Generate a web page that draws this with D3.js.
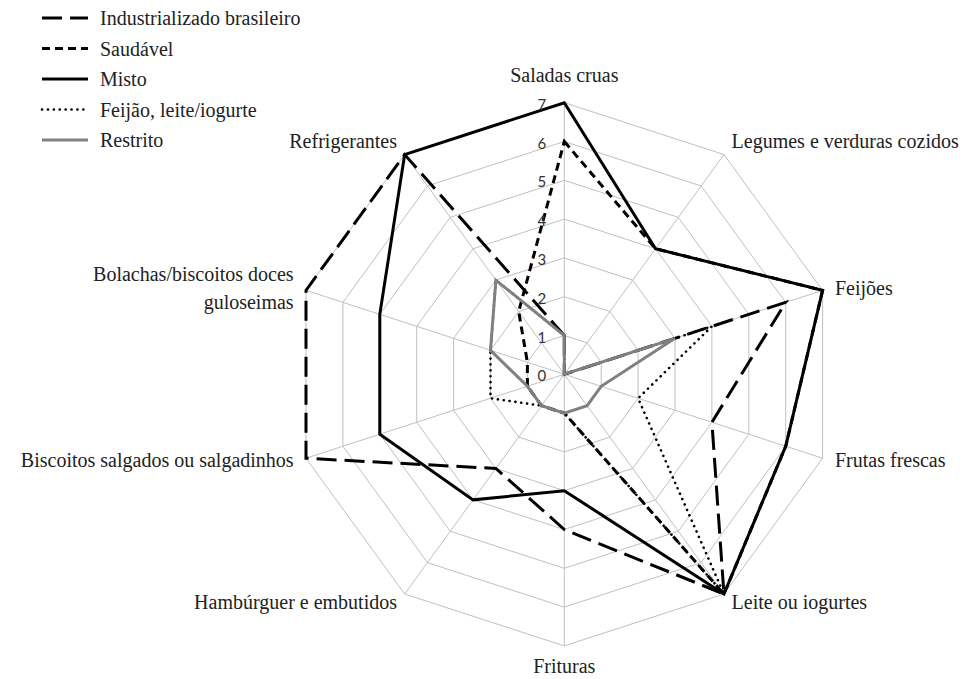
<!DOCTYPE html>
<html>
<head>
<meta charset="utf-8">
<script src="https://cdn.jsdelivr.net/npm/d3@7"></script>
<style>
  body { margin: 0; background: #fff; }
</style>
</head>
<body>
<svg width="974" height="679"></svg>
<script>
const categories = [
  'Saladas cruas',
  'Legumes e verduras cozidos',
  'Feijões',
  'Frutas frescas',
  'Leite ou iogurtes',
  'Frituras',
  'Hambúrguer e embutidos',
  'Biscoitos salgados ou salgadinhos',
  'Bolachas/biscoitos doces guloseimas',
  'Refrigerantes'
];
const industrializado = [1, 0, 6, 4, 7, 4, 3, 7, 7, 7];
const saudavel = [6, 4, 7, 6, 7, 1, 1, 1, 1, 2];
const misto = [7, 4, 7, 6, 7, 3, 4, 5, 5, 7];
const feijaoLeite = [1, 0, 4, 2, 7, 1, 1, 2, 2, 3];
const restrito = [1, 0, 3, 1, 1, 1, 1, 1, 2, 3];
const ticks = [0, 1, 2, 3, 4, 5, 6, 7];

const series = [
  { name: 'Industrializado brasileiro', values: industrializado, color: '#000', width: 3, dash: '20,8', cap: 'butt' },
  { name: 'Saudável', values: saudavel, color: '#000', width: 3, dash: '8,5', cap: 'butt' },
  { name: 'Misto', values: misto, color: '#000', width: 3, dash: null, cap: 'butt' },
  { name: 'Feijão, leite/iogurte', values: feijaoLeite, color: '#000', width: 2.6, dash: '0.1,5.8', cap: 'round' },
  { name: 'Restrito', values: restrito, color: '#808080', width: 3, dash: null, cap: 'butt' }
];

const svg = d3.select('svg');
const cx = 564.3, cy = 374.3;
const r = d3.scaleLinear().domain([0, 7]).range([0, 271.6]);
const angle = d3.scaleBand().domain(categories).range([0, 2 * Math.PI]);

const pt = (cat, v) => {
  const a = angle(cat);
  return [cx + r(v) * Math.sin(a), cy - r(v) * Math.cos(a)];
};

const g = svg.append('g');

// grid rings
g.selectAll('.ring')
  .data(ticks.slice(1))
  .enter()
  .append('polygon')
  .attr('class', 'ring')
  .attr('points', (t) => categories.map((c) => pt(c, t).join(',')).join(' '))
  .attr('fill', 'none')
  .attr('stroke', '#c0c0c0')
  .attr('stroke-width', 1);

// spokes
g.selectAll('.spoke')
  .data(categories)
  .enter()
  .append('line')
  .attr('x1', cx)
  .attr('y1', cy)
  .attr('x2', (c) => pt(c, 7)[0])
  .attr('y2', (c) => pt(c, 7)[1])
  .attr('stroke', '#c0c0c0')
  .attr('stroke-width', 1);

// series
const line = d3.line().curve(d3.curveLinearClosed);
series.forEach((s) => {
  g.append('path')
    .attr('d', line(categories.map((c, i) => pt(c, s.values[i]))))
    .attr('fill', 'none')
    .attr('stroke', s.color)
    .attr('stroke-width', s.width)
    .attr('stroke-dasharray', s.dash)
    .attr('stroke-linecap', s.cap)
    .attr('stroke-linejoin', 'miter');
});

// tick labels
g.selectAll('.tick')
  .data(ticks)
  .enter()
  .append('text')
  .attr('x', cx - 18)
  .attr('y', (t) => pt(categories[0], t)[1] + 1)
  .attr('text-anchor', 'end')
  .attr('dominant-baseline', 'central')
  .attr('font-family', 'Lato, "Open Sans", sans-serif')
  .attr('font-size', '15px')
  .attr('fill', '#333')
  .text((t) => t);

// category labels
categories.forEach((c) => {
  const a = angle(c);
  const s = Math.sin(a), co = Math.cos(a);
  const [vx, vy] = pt(c, 7);
  const anchor = s > 0.1 ? 'start' : s < -0.1 ? 'end' : 'middle';
  let dy;
  if (co > 0.99) dy = -28;
  else if (co < -0.99) dy = 20;
  else if (co > 0.5) dy = -co * 17;
  else if (co < -0.5) dy = -co * 10;
  else dy = -co * 7;
  const t = g.append('text')
    .attr('x', vx + s * 13)
    .attr('y', vy + dy)
    .attr('text-anchor', anchor)
    .attr('dominant-baseline', 'central')
    .attr('font-family', '"Liberation Serif", serif')
    .attr('font-size', '20px')
    .attr('fill', '#222');
  if (c.startsWith('Bolachas')) {
    t.append('tspan').attr('x', vx + s * 13).attr('dy', '-0.7em').text('Bolachas/biscoitos doces');
    t.append('tspan').attr('x', vx + s * 13).attr('dy', '1.4em').text('guloseimas');
  } else {
    t.text(c);
  }
});

// legend
const legend = svg.append('g').attr('transform', 'translate(42,18)');
series.forEach((s, i) => {
  const row = legend.append('g').attr('transform', `translate(0,${i * 30.5})`);
  row.append('line')
    .attr('x1', 0)
    .attr('x2', 46)
    .attr('y1', 0)
    .attr('y2', 0)
    .attr('stroke', s.color)
    .attr('stroke-width', s.width)
    .attr('stroke-dasharray', s.dash)
    .attr('stroke-linecap', s.cap);
  row.append('text')
    .attr('x', 58)
    .attr('y', 0)
    .attr('dominant-baseline', 'central')
    .attr('font-family', '"Liberation Serif", serif')
    .attr('font-size', '20px')
    .attr('fill', '#222')
    .text(s.name);
});
</script>
</body>
</html>
